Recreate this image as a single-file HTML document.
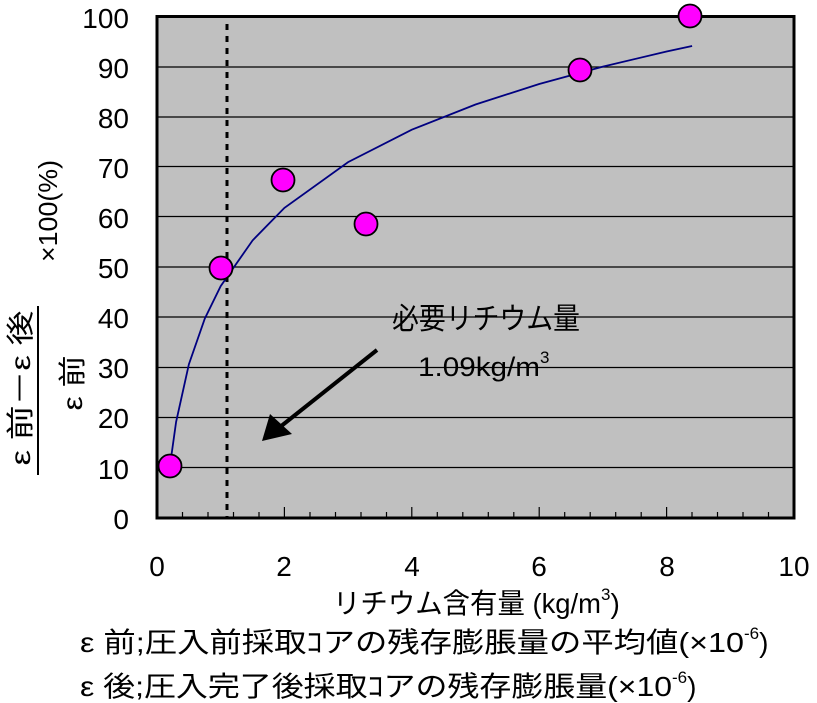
<!DOCTYPE html>
<html><head><meta charset="utf-8"><style>
body{margin:0;background:#fff}
svg{display:block;font-family:"Liberation Sans","Noto Sans CJK JP",sans-serif}
</style></head><body>
<svg width="817" height="703" viewBox="0 0 817 703" xmlns="http://www.w3.org/2000/svg">
<rect x="157" y="16.5" width="637" height="501.5" fill="#c0c0c0"/>
<g stroke="#000" stroke-width="1.2">
<line x1="157" x2="794" y1="67" y2="67"/>
<line x1="157" x2="794" y1="117" y2="117"/>
<line x1="157" x2="794" y1="166.5" y2="166.5"/>
<line x1="157" x2="794" y1="216.5" y2="216.5"/>
<line x1="157" x2="794" y1="267" y2="267"/>
<line x1="157" x2="794" y1="317" y2="317"/>
<line x1="157" x2="794" y1="367.5" y2="367.5"/>
<line x1="157" x2="794" y1="417.5" y2="417.5"/>
<line x1="157" x2="794" y1="467.5" y2="467.5"/>
</g>
<g stroke="#000" stroke-width="1.2">
<line x1="182.5" x2="182.5" y1="518" y2="512"/><line x1="208" x2="208" y1="518" y2="512"/><line x1="233.5" x2="233.5" y1="518" y2="512"/><line x1="259" x2="259" y1="518" y2="512"/>
<line x1="284.4" x2="284.4" y1="518" y2="507"/>
<line x1="310" x2="310" y1="518" y2="512"/><line x1="335.5" x2="335.5" y1="518" y2="512"/><line x1="361" x2="361" y1="518" y2="512"/><line x1="386.5" x2="386.5" y1="518" y2="512"/>
<line x1="411.8" x2="411.8" y1="518" y2="507"/>
<line x1="437.3" x2="437.3" y1="518" y2="512"/><line x1="462.8" x2="462.8" y1="518" y2="512"/><line x1="488.3" x2="488.3" y1="518" y2="512"/><line x1="513.8" x2="513.8" y1="518" y2="512"/>
<line x1="539.2" x2="539.2" y1="518" y2="507"/>
<line x1="564.7" x2="564.7" y1="518" y2="512"/><line x1="590.2" x2="590.2" y1="518" y2="512"/><line x1="615.7" x2="615.7" y1="518" y2="512"/><line x1="641.2" x2="641.2" y1="518" y2="512"/>
<line x1="666.6" x2="666.6" y1="518" y2="507"/>
<line x1="692" x2="692" y1="518" y2="512"/><line x1="717.5" x2="717.5" y1="518" y2="512"/><line x1="743" x2="743" y1="518" y2="512"/><line x1="768.5" x2="768.5" y1="518" y2="512"/>
</g>
<line x1="227" x2="227" y1="24" y2="518" stroke="#000" stroke-width="3" stroke-dasharray="6,6"/>
<rect x="157" y="16.5" width="637" height="501.5" fill="none" stroke="#000" stroke-width="3"/>
<polyline fill="none" stroke="#000080" stroke-width="1.8" points="169.7,467.6 176.1,421.9 188.9,364.2 204.8,318.6 220.7,286.1 252.6,240.4 284.4,207.9 348.1,162.1 411.8,129.7 475.5,104.5 539.2,84 602.9,66.6 666.6,51.5 692.1,46"/>
<g fill="#ff00ff" stroke="#000" stroke-width="1.8">
<circle cx="170" cy="466" r="11.5"/>
<circle cx="221" cy="268" r="11.5"/>
<circle cx="283" cy="180" r="11.5"/>
<circle cx="366" cy="224" r="11.5"/>
<circle cx="580" cy="70" r="11.5"/>
<circle cx="690" cy="16" r="11.5"/>
</g>
<line x1="377" y1="350" x2="280" y2="427" stroke="#000" stroke-width="4"/>
<polygon points="262,441 270,414 292,434" fill="#000"/>
<text x="392" y="329" font-size="30" textLength="188" lengthAdjust="spacingAndGlyphs" fill="#000">必要リチウム量</text>
<text x="418" y="376" font-size="27" fill="#000"><tspan textLength="122" lengthAdjust="spacingAndGlyphs">1.09kg/m</tspan><tspan font-size="17" dy="-13">3</tspan></text>
<g font-size="28" fill="#000" text-anchor="end">
<text x="129" y="28">100</text><text x="129" y="78">90</text><text x="129" y="128">80</text>
<text x="129" y="178">70</text><text x="129" y="228">60</text><text x="129" y="278">50</text>
<text x="129" y="328">40</text><text x="129" y="378">30</text><text x="129" y="428">20</text>
<text x="129" y="479">10</text><text x="129" y="529">0</text>
</g>
<g font-size="28" fill="#000" text-anchor="middle">
<text x="157" y="576">0</text><text x="284" y="576">2</text><text x="412" y="576">4</text>
<text x="539" y="576">6</text><text x="667" y="576">8</text><text x="794" y="576">10</text>
</g>
<text x="333" y="613" font-size="28" fill="#000"><tspan textLength="268" lengthAdjust="spacingAndGlyphs">リチウム含有量 (kg/m</tspan><tspan font-size="17" dy="-13">3</tspan><tspan dy="13">)</tspan></text>
<text x="80" y="652" font-size="28" fill="#000"><tspan textLength="664" lengthAdjust="spacingAndGlyphs">ε 前;圧入前採取ｺアの残存膨脹量の平均値(×10</tspan><tspan font-size="17" dy="-13">-6</tspan><tspan dy="13">)</tspan></text>
<text x="80" y="696" font-size="28" fill="#000"><tspan textLength="592" lengthAdjust="spacingAndGlyphs">ε 後;圧入完了後採取ｺアの残存膨脹量(×10</tspan><tspan font-size="17" dy="-13">-6</tspan><tspan dy="13">)</tspan></text>
<text transform="translate(30,388) rotate(-90)" font-size="28" text-anchor="middle" textLength="155" lengthAdjust="spacingAndGlyphs" fill="#000">ε 前－ε 後</text>
<line x1="38" x2="38" y1="306" y2="475" stroke="#000" stroke-width="2"/>
<text transform="translate(82,383) rotate(-90)" font-size="28" text-anchor="middle" textLength="55" lengthAdjust="spacingAndGlyphs" fill="#000">ε 前</text>
<text transform="translate(57,211) rotate(-90)" font-size="26" text-anchor="middle" textLength="102" lengthAdjust="spacingAndGlyphs" fill="#000">×100(%)</text>
</svg>
</body></html>
